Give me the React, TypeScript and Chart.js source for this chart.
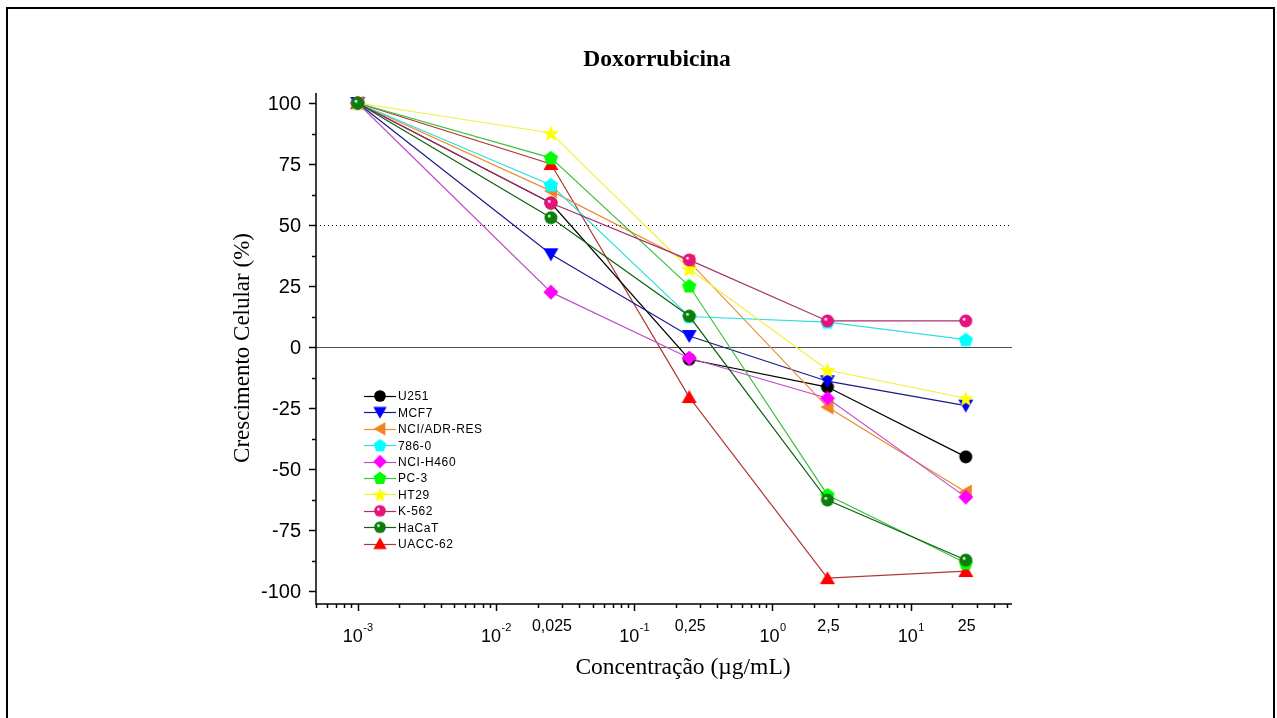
import React, { useEffect, useRef } from "react";
import { Chart, registerables } from "chart.js";
Chart.register(...registerables);

const concentrations = [0.001, 0.025, 0.25, 2.5, 25];
const seriesNames = ["U251", "MCF7", "NCI/ADR-RES", "786-0", "NCI-H460", "PC-3", "HT29", "K-562", "HaCaT", "UACC-62"];
const u251 = [100, 59, -5, -16.4, -45];
const mcf7 = [100, 38, 4.5, -14, -24];
const nciAdrRes = [100, 64, 35, -24.6, -59.4];
const c7860 = [100, 66.4, 12.5, 10.2, 3];
const nciH460 = [100, 22.5, -4.5, -21, -61.5];
const pc3 = [100, 77.5, 25, -60.6, -88.5];
const ht29 = [100, 87.7, 32, -9.4, -21];
const k562 = [100, 59, 35.7, 10.7, 10.7];
const hacat = [100, 53, 12.7, -62.7, -87.3];
const uacc62 = [100, 75, -20.5, -94.7, -91.8];
const seriesValues = [u251, mcf7, nciAdrRes, c7860, nciH460, pc3, ht29, k562, hacat, uacc62];

const yTicks = [-100, -75, -50, -25, 0, 25, 50, 75, 100];
const decadeTicks = [0.001, 0.01, 0.1, 1, 10];
const decadeExponents = ["-3", "-2", "-1", "0", "1"];
const concentrationLabels = ["0,025", "0,25", "2,5", "25"];
const concentrationLabelValues = [0.025, 0.25, 2.5, 25];

const markerShapes = ["circle", "down", "left", "pentagon", "diamond", "pentagon", "star", "sphere", "sphere", "up"];
const markerColors = ["#000000", "#0000ff", "#f58220", "#00ffff", "#ff00ff", "#00ff00", "#ffff00", "#e6137a", "#0b7d0b", "#ff0000"];
const lineColors = ["#000000", "#1a1a8c", "#f08a30", "#30e0e0", "#c050c8", "#40c040", "#f0f040", "#a8306c", "#106010", "#b03838"];
const drawOrder = [10, 9, 8, 7, 6, 5, 4, 3, 2, 100];

const FONT_SANS = "'Liberation Sans', Arial, sans-serif";
const FONT_SERIF = "'Liberation Serif', 'Times New Roman', serif";

function polygonPath(ctx: CanvasRenderingContext2D, cx: number, cy: number, r: number, n: number, rot: number) {
  ctx.beginPath();
  for (let i = 0; i < n; i++) {
    const a = rot + (i * 2 * Math.PI) / n;
    const x = cx + r * Math.cos(a);
    const y = cy + r * Math.sin(a);
    if (i === 0) ctx.moveTo(x, y);
    else ctx.lineTo(x, y);
  }
  ctx.closePath();
}

function makeMarker(shape: string, color: string, scale: number): HTMLCanvasElement {
  const size = Math.round(20 * scale);
  const c = document.createElement("canvas");
  c.width = size;
  c.height = size;
  const ctx = c.getContext("2d")!;
  const cx = size / 2;
  const cy = size / 2;
  const s = scale;
  ctx.fillStyle = color;
  if (shape === "circle") {
    ctx.beginPath();
    ctx.arc(cx, cy, 6.5 * s, 0, Math.PI * 2);
    ctx.fill();
  } else if (shape === "sphere") {
    const g = ctx.createRadialGradient(cx - 2 * s, cy - 2 * s, 0.5, cx, cy, 7 * s);
    g.addColorStop(0, "#ffffff");
    g.addColorStop(0.25, color);
    g.addColorStop(1, color);
    ctx.fillStyle = g;
    ctx.beginPath();
    ctx.arc(cx, cy, 6.5 * s, 0, Math.PI * 2);
    ctx.fill();
  } else if (shape === "down") {
    ctx.beginPath();
    ctx.moveTo(cx - 7.5 * s, cy - 6 * s);
    ctx.lineTo(cx + 7.5 * s, cy - 6 * s);
    ctx.lineTo(cx, cy + 7 * s);
    ctx.closePath();
    ctx.fill();
  } else if (shape === "up") {
    ctx.beginPath();
    ctx.moveTo(cx - 7.5 * s, cy + 6 * s);
    ctx.lineTo(cx + 7.5 * s, cy + 6 * s);
    ctx.lineTo(cx, cy - 7 * s);
    ctx.closePath();
    ctx.fill();
  } else if (shape === "left") {
    ctx.beginPath();
    ctx.moveTo(cx + 6 * s, cy - 7.5 * s);
    ctx.lineTo(cx + 6 * s, cy + 7.5 * s);
    ctx.lineTo(cx - 7 * s, cy);
    ctx.closePath();
    ctx.fill();
  } else if (shape === "diamond") {
    polygonPath(ctx, cx, cy, 7.5 * s, 4, -Math.PI / 2);
    ctx.fill();
  } else if (shape === "pentagon") {
    polygonPath(ctx, cx, cy + 0.5 * s, 7.5 * s, 5, -Math.PI / 2);
    ctx.fill();
  } else if (shape === "star") {
    ctx.beginPath();
    for (let i = 0; i < 10; i++) {
      const r = i % 2 === 0 ? 8.5 * s : 3.6 * s;
      const a = -Math.PI / 2 + (i * Math.PI) / 5;
      const x = cx + r * Math.cos(a);
      const y = cy + 1 * s + r * Math.sin(a);
      if (i === 0) ctx.moveTo(x, y);
      else ctx.lineTo(x, y);
    }
    ctx.closePath();
    ctx.fill();
  }
  return c;
}

let legendMarkers: HTMLCanvasElement[] = [];

const decorPlugin = {
  id: "decor",
  beforeDatasetsDraw(chart: any) {
    const ctx: CanvasRenderingContext2D = chart.ctx;
    const y = chart.scales.y;
    const left = chart.chartArea.left;
    const right = chart.chartArea.right;
    ctx.save();
    ctx.strokeStyle = "#505050";
    ctx.lineWidth = 1;
    const y0 = Math.round(y.getPixelForValue(0)) + 0.5;
    ctx.beginPath();
    ctx.moveTo(left, y0);
    ctx.lineTo(right, y0);
    ctx.stroke();
    const y50 = Math.round(y.getPixelForValue(50)) + 0.5;
    ctx.strokeStyle = "#000000";
    ctx.setLineDash([1, 3]);
    ctx.beginPath();
    ctx.moveTo(left, y50);
    ctx.lineTo(right, y50);
    ctx.stroke();
    ctx.restore();
  },
  afterDraw(chart: any) {
    const ctx: CanvasRenderingContext2D = chart.ctx;
    const xs = chart.scales.x;
    const ys = chart.scales.y;
    const { left, right, top, bottom } = chart.chartArea;
    ctx.save();
    // frame
    ctx.strokeStyle = "#000";
    ctx.lineWidth = 2;
    ctx.beginPath();
    ctx.moveTo(7, 730);
    ctx.lineTo(7, 8);
    ctx.lineTo(1274, 8);
    ctx.lineTo(1274, 730);
    ctx.stroke();

    // title
    ctx.fillStyle = "#000";
    ctx.font = `bold 23.5px ${FONT_SERIF}`;
    ctx.textAlign = "center";
    ctx.textBaseline = "middle";
    ctx.fillText("Doxorrubicina", 657, 60);

    // axes lines
    ctx.lineWidth = 1.5;
    ctx.beginPath();
    ctx.moveTo(left, top);
    ctx.lineTo(left, bottom);
    ctx.lineTo(right, bottom);
    ctx.stroke();

    // y ticks
    ctx.font = `20px ${FONT_SANS}`;
    ctx.textAlign = "right";
    ctx.textBaseline = "middle";
    yTicks.forEach((v) => {
      const py = Math.round(ys.getPixelForValue(v)) + 0.5;
      ctx.beginPath();
      ctx.moveTo(left - 7, py);
      ctx.lineTo(left, py);
      ctx.stroke();
      ctx.fillText(String(v), left - 15, py + 1);
    });
    for (let i = 0; i < yTicks.length - 1; i++) {
      const v = (yTicks[i] + yTicks[i + 1]) / 2;
      const py = Math.round(ys.getPixelForValue(v)) + 0.5;
      ctx.beginPath();
      ctx.moveTo(left - 4, py);
      ctx.lineTo(left, py);
      ctx.stroke();
    }

    // x ticks
    for (let k = -4; k <= 1; k++) {
      for (let m = 1; m <= 9; m++) {
        const v = m * Math.pow(10, k);
        if (v < xs.min || v > xs.max) continue;
        const px = Math.round(xs.getPixelForValue(v)) + 0.5;
        const len = m === 1 ? 7 : 4;
        ctx.beginPath();
        ctx.moveTo(px, bottom);
        ctx.lineTo(px, bottom + len);
        ctx.stroke();
      }
    }
    ctx.textBaseline = "alphabetic";
    decadeTicks.forEach((v, i) => {
      const px = xs.getPixelForValue(v);
      ctx.font = `18px ${FONT_SANS}`;
      const w10 = ctx.measureText("10").width;
      ctx.font = `11px ${FONT_SANS}`;
      const we = ctx.measureText(decadeExponents[i]).width;
      const start = px - (w10 + we) / 2;
      ctx.textAlign = "left";
      ctx.font = `18px ${FONT_SANS}`;
      ctx.fillText("10", start, 642);
      ctx.font = `11px ${FONT_SANS}`;
      ctx.fillText(decadeExponents[i], start + w10 + 0.5, 631);
    });
    ctx.font = `16px ${FONT_SANS}`;
    ctx.textAlign = "center";
    concentrationLabelValues.forEach((v, i) => {
      const px = xs.getPixelForValue(v);
      ctx.fillText(concentrationLabels[i], px + 1, 631);
    });

    // axis titles
    ctx.font = `23.5px ${FONT_SERIF}`;
    ctx.textAlign = "center";
    ctx.textBaseline = "middle";
    ctx.fillText("Concentração (µg/mL)", 683, 668);
    ctx.save();
    ctx.translate(243, 348);
    ctx.rotate(-Math.PI / 2);
    ctx.font = `23px ${FONT_SERIF}`;
    ctx.fillText("Crescimento Celular (%)", 0, 0);
    ctx.restore();

    // legend
    ctx.font = `12px ${FONT_SANS}`;
    ctx.textAlign = "left";
    ctx.textBaseline = "middle";
    (ctx as any).letterSpacing = "0.6px";
    seriesNames.forEach((name, i) => {
      const ly = 396 + i * 16.4;
      ctx.strokeStyle = lineColors[i];
      ctx.lineWidth = 1.2;
      ctx.beginPath();
      ctx.moveTo(364, Math.round(ly) + 0.5);
      ctx.lineTo(396, Math.round(ly) + 0.5);
      ctx.stroke();
      const img = legendMarkers[i];
      ctx.drawImage(img, 380 - img.width / 2, ly - img.height / 2);
      ctx.fillStyle = "#000";
      ctx.fillText(name, 398, ly + 1);
    });
    ctx.restore();
  },
};

export default function App() {
  const ref = useRef<HTMLCanvasElement>(null);
  useEffect(() => {
    const canvas = ref.current!;
    const markers = markerShapes.map((s, i) => makeMarker(s, markerColors[i], 1));
    legendMarkers = markerShapes.map((s, i) => makeMarker(s, markerColors[i], 0.9));
    const datasets = seriesNames.map((name, i) => ({
      label: name,
      data: concentrations.map((c, j) => ({ x: c, y: seriesValues[i][j] })),
      borderColor: lineColors[i],
      backgroundColor: markerColors[i],
      borderWidth: 1.2,
      pointStyle: markers[i],
      pointRadius: 7,
      pointHoverRadius: 7,
      order: drawOrder[i],
      clip: false as any,
      tension: 0,
    }));
    const chart = new Chart(canvas, {
      type: "line",
      data: { datasets },
      options: {
        responsive: false,
        animation: false,
        devicePixelRatio: 1,
        events: [],
        layout: { padding: { left: 316, right: 265, top: 93, bottom: 114 } },
        plugins: { legend: { display: false }, tooltip: { enabled: false }, title: { display: false } },
        scales: {
          x: { type: "logarithmic", min: 0.0005, max: 54, display: false },
          y: { type: "linear", min: -105.3, max: 104.1, display: false },
        },
      },
      plugins: [decorPlugin],
    });
    return () => chart.destroy();
  }, []);
  return (
    <div style={{ position: "absolute", left: 0, top: 0, width: 1277, height: 718, background: "#fff" }}>
      <canvas ref={ref} width={1277} height={718} style={{ display: "block" }} />
    </div>
  );
}
